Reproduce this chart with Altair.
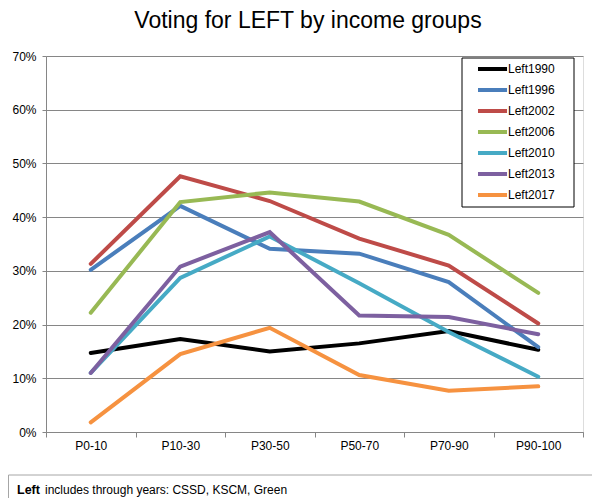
import altair as alt
import pandas as pd

# ---- data ----
groups = ["P0-10", "P10-30", "P30-50", "P50-70", "P70-90", "P90-100"]
series = ["Left1990", "Left1996", "Left2002", "Left2006", "Left2010", "Left2013", "Left2017"]
left1990 = [14.7, 17.3, 15.0, 16.5, 18.8, 15.3]
left1996 = [30.2, 42.1, 34.1, 33.2, 27.9, 15.8]
left2002 = [31.3, 47.6, 43.0, 36.0, 31.0, 20.2]
left2006 = [22.2, 42.8, 44.6, 42.9, 36.7, 25.9]
left2010 = [11.0, 28.7, 36.4, 27.7, 18.6, 10.3]
left2013 = [11.0, 30.8, 37.2, 21.7, 21.4, 18.2]
left2017 = [1.8, 14.5, 19.4, 10.6, 7.7, 8.5]
colors = ["#000000", "#4A7EBB", "#BE4B48", "#98B954", "#46AAC5", "#7D60A0", "#F69240"]
y_ticks = [0, 0.1, 0.2, 0.3, 0.4, 0.5, 0.6, 0.7]

title_text = "Voting for LEFT by income groups"
note_bold = "Left"
note_rest = "includes through years: CSSD, KSCM, Green"

all_vals = [left1990, left1996, left2002, left2006, left2010, left2013, left2017]
rows = []
for s, vals in zip(series, all_vals):
    for g, v in zip(groups, vals):
        rows.append({"group": g, "series": s, "share": v / 100.0})
df = pd.DataFrame(rows)

FONT = "Liberation Sans"
GRAY = "#868686"

lines = alt.Chart(df).mark_line(strokeWidth=4, strokeCap="round").encode(
    x=alt.X("group:N", sort=groups, title=None,
            scale=alt.Scale(paddingInner=0, paddingOuter=0),
            axis=alt.Axis(labelAngle=0, tickBand="extent", tickSize=5, labelPadding=3,
                          domainColor=GRAY, tickColor=GRAY, labelColor="#000000",
                          labelFontSize=12, labelFont=FONT, grid=False)),
    y=alt.Y("share:Q", title=None,
            scale=alt.Scale(domain=[0, 0.7], nice=False),
            axis=alt.Axis(values=y_ticks, format=".0%", tickSize=4, labelPadding=6,
                          domainColor=GRAY, tickColor=GRAY, gridColor=GRAY,
                          labelColor="#000000", labelFontSize=12, labelFont=FONT)),
    color=alt.Color("series:N", sort=series,
                    scale=alt.Scale(domain=series, range=colors),
                    legend=alt.Legend(title=None, orient="none", legendX=440, legendY=2.5,
                                      padding=0, symbolType="M-2.18,0H1.24",
                                      symbolSize=289, symbolStrokeWidth=4,
                                      labelFontSize=12, labelFont=FONT, labelColor="#000000",
                                      labelOffset=1, rowPadding=2)),
)

one = pd.DataFrame({"k": [0]})

legend_box = alt.Chart(one).mark_rect(fill="white", stroke="#000000", strokeWidth=1).encode(
    x=alt.value(416), x2=alt.value(528), y=alt.value(2), y2=alt.value(151)
)

note_box = alt.Chart(one).mark_rect(fill="transparent", stroke="#a6a6a6", strokeWidth=1).encode(
    x=alt.value(-37.5), x2=alt.value(560), y=alt.value(419), y2=alt.value(470)
)

title = alt.Chart(one).mark_text(fontSize=23, font=FONT, align="center",
                                 baseline="alphabetic", color="#000000").encode(
    x=alt.value(262), y=alt.value(-28), text=alt.value(title_text)
)

note1 = alt.Chart(one).mark_text(fontSize=12.5, font=FONT, align="left", fontWeight="bold",
                                 baseline="middle", color="#000000").encode(
    x=alt.value(-29), y=alt.value(434), text=alt.value(note_bold)
)
note2 = alt.Chart(one).mark_text(fontSize=12, font=FONT, align="left",
                                 baseline="middle", color="#000000").encode(
    x=alt.value(-1), y=alt.value(434), text=alt.value(note_rest)
)

chart = alt.layer(lines, legend_box, note_box, title, note1, note2).properties(
    width=537, height=376,
    autosize=alt.AutoSizeParams(type="none"),
    padding={"left": 38, "top": 48, "right": 9, "bottom": 66},
).configure_view(stroke="transparent").configure(font=FONT)

chart.save("out.html", embed_options={"renderer": "svg", "actions": False})
